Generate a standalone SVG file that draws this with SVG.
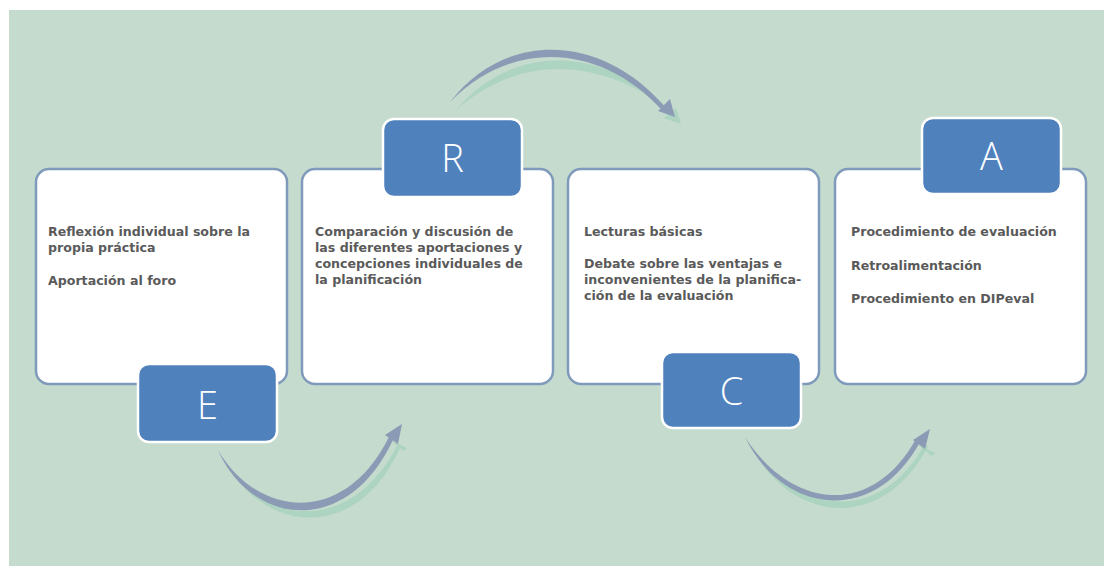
<svg xmlns="http://www.w3.org/2000/svg" width="1104" height="569" viewBox="0 0 1104 569">
<style>
.card{fill:#ffffff;stroke:#7f9abb;stroke-width:2.5}
.badge{fill:#4f81bd;stroke:#ffffff;stroke-width:2.5}
.letter{font-family:"Open Sans","Lato",sans-serif;font-weight:300;font-size:38px;fill:#ffffff;text-anchor:middle}
.txt{font-family:"DejaVu Sans","Verdana",sans-serif;font-weight:bold;font-size:12.6px;fill:#5a5a5a}
.arr{fill:#8b9bb6}
.sh{fill:#a8d2bd;opacity:0.85}
</style>
<rect x="0" y="0" width="1104" height="569" fill="#ffffff"/>
<rect x="9" y="10" width="1095" height="556" fill="#c4dbcd"/>

<g id="connectors">
  <!-- E to R -->
  <path class="sh" d="M224,458 C258,530 354,548 400,448 L397,446 C350,536 262,526 224,458 Z"/>
  <polygon class="sh" points="407,448 390,440 404,451"/>
  <path class="arr" d="M218,450 C250,524 346,540 393,440 L389,437 C343,529 256,516 218,450 Z"/>
  <polygon class="arr" points="402,424 385,435 398,444"/>
  <!-- R to C -->
  <path class="sh" d="M456,110 C520,36 612,52 672,112 L675,115 C612,62 526,48 456,110 Z"/>
  <path class="arr" d="M450,102 C510,26 606,38 664,106 L661,109 C603,46 515,36 450,102 Z"/>
  <polygon class="sh" points="681,124 664,118 676,108"/>
  <polygon class="arr" points="675,117 658,111 670,99"/>
  <!-- C to A -->
  <path class="sh" d="M751,445 C788,522 882,535 928,446 L925,444 C879,527 795,514 751,445 Z"/>
  <polygon class="sh" points="935,453 918,445 932,456"/>
  <path class="arr" d="M745,437 C782,514 874,527 920,442 L916,439 C871,520 790,508 745,437 Z"/>
  <polygon class="arr" points="930,429 913,440 925,449"/>
</g>

<g id="node-E">
  <rect class="card" x="36" y="169" width="251" height="215" rx="13"/>
  <text class="txt" x="48" y="236">Reflexión individual sobre la</text>
  <text class="txt" x="48" y="252">propia práctica</text>
  <text class="txt" x="48" y="285">Aportación al foro</text>
  <rect class="badge" x="138" y="364" width="139" height="78" rx="11"/>
  <text class="letter" x="207.5" y="419">E</text>
</g>

<g id="node-R">
  <rect class="card" x="302" y="169" width="251" height="215" rx="13"/>
  <rect class="badge" x="383" y="119" width="139" height="78" rx="11"/>
  <text class="letter" x="452.5" y="172">R</text>
  <text class="txt" x="315" y="236">Comparación y discusión de</text>
  <text class="txt" x="315" y="252">las diferentes aportaciones y</text>
  <text class="txt" x="315" y="268">concepciones individuales de</text>
  <text class="txt" x="315" y="284">la planificación</text>
</g>

<g id="node-C">
  <rect class="card" x="568" y="169" width="251" height="215" rx="13"/>
  <text class="txt" x="584" y="236">Lecturas básicas</text>
  <text class="txt" x="584" y="268">Debate sobre las ventajas e</text>
  <text class="txt" x="584" y="284">inconvenientes de la planifica-</text>
  <text class="txt" x="584" y="300">ción de la evaluación</text>
  <rect class="badge" x="662" y="352" width="139" height="76" rx="11"/>
  <text class="letter" x="731.5" y="405">C</text>
</g>

<g id="node-A">
  <rect class="card" x="835" y="169" width="251" height="215" rx="13"/>
  <rect class="badge" x="922" y="118" width="139" height="76" rx="11"/>
  <text class="letter" x="991.5" y="170">A</text>
  <text class="txt" x="851" y="236">Procedimiento de evaluación</text>
  <text class="txt" x="851" y="270">Retroalimentación</text>
  <text class="txt" x="851" y="303">Procedimiento en DIPeval</text>
</g>
</svg>
